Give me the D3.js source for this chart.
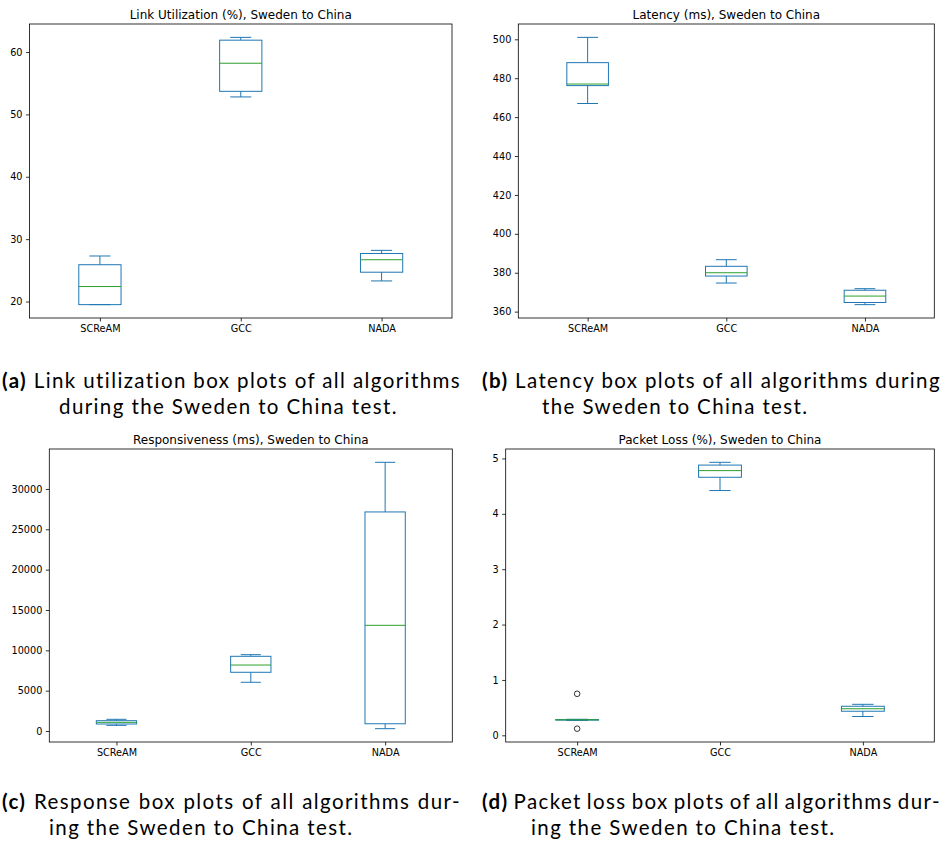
<!DOCTYPE html>
<html>
<head>
<meta charset="utf-8">
<script src="https://cdn.jsdelivr.net/npm/d3@7"></script>
<style>
  html, body { margin: 0; padding: 0; background: #fff; }
  svg { display: block; }
</style>
</head>
<body>
<svg id="fig" width="945" height="842"></svg>
<script>
// Algorithms compared in every panel
const categories = ["SCReAM", "GCC", "NADA"];

// Box statistics per algorithm: [lower whisker, Q1, median, Q3, upper whisker]
const utilizationStats = [
  [19.5, 19.5, 22.4, 25.9, 27.3],
  [52.8, 53.7, 58.2, 61.9, 62.35],
  [23.3, 24.7, 26.7, 27.7, 28.2]
];
const latencyStats = [
  [467, 476.2, 477, 488, 501],
  [374.7, 378.3, 380, 383.3, 386.7],
  [363.6, 364.7, 368, 371, 371.8]
];
const responsivenessStats = [
  [700, 870, 1075, 1280, 1450],
  [6040, 7280, 8180, 9260, 9460],
  [290, 900, 13100, 27150, 33300]
];
const packetLossStats = [
  [0.27, 0.275, 0.28, 0.285, 0.29],
  [4.42, 4.66, 4.78, 4.88, 4.93],
  [0.34, 0.435, 0.48, 0.525, 0.56]
];

// Outlier points per algorithm
const utilizationFliers = [[], [], []];
const latencyFliers = [[], [], []];
const responsivenessFliers = [[], [], []];
const packetLossFliers = [[0.75, 0.12], [], []];

// Y tick values
const utilizationTicks = [20, 30, 40, 50, 60];
const latencyTicks = [360, 380, 400, 420, 440, 460, 480, 500];
const responsivenessTicks = [0, 5000, 10000, 15000, 20000, 25000, 30000];
const packetLossTicks = [0, 1, 2, 3, 4, 5];

// Panel titles and captions
const titles = [
  "Link Utilization (%), Sweden to China",
  "Latency (ms), Sweden to China",
  "Responsiveness (ms), Sweden to China",
  "Packet Loss (%), Sweden to China"
];
const captionLabels = ["(a)", "(b)", "(c)", "(d)"];
const captionFirstLines = [
  "Link utilization box plots of all algorithms",
  "Latency box plots of all algorithms during",
  "Response box plots of all algorithms dur-",
  "Packet loss box plots of all algorithms dur-"
];
const captionSecondLines = [
  "during the Sweden to China test.",
  "the Sweden to China test.",
  "ing the Sweden to China test.",
  "ing the Sweden to China test."
];

const BLUE = "#1f77b4", GREEN = "#2ca02c";
const tickFont = "'DejaVu Sans', sans-serif";
const captionFont = "Lato, 'Open Sans', sans-serif";
const tickSize = 9.7, titleSize = 12;
const capSize = 20.5, captionLeading = 26;

const svg = d3.select("#fig");

// Panel frames: axes rectangles and caption anchors
const panels = [
  {stats: utilizationStats, fliers: utilizationFliers, ticks: utilizationTicks,
   box: {x0: 29.5, x1: 452, y0: 24, y1: 318}, cap: {x: 2, x2: 59, y: 388}},
  {stats: latencyStats, fliers: latencyFliers, ticks: latencyTicks,
   box: {x0: 518.3, x1: 934.3, y0: 24, y1: 318}, cap: {x: 482, x2: 542, y: 388}},
  {stats: responsivenessStats, fliers: responsivenessFliers, ticks: responsivenessTicks,
   box: {x0: 49.3, x1: 452.3, y0: 449, y1: 742}, cap: {x: 2, x2: 49, y: 809}},
  {stats: packetLossStats, fliers: packetLossFliers, ticks: packetLossTicks,
   box: {x0: 505.7, x1: 934.3, y0: 449, y1: 742}, cap: {x: 482, x2: 531, y: 809}}
];

panels.forEach((p, i) => {
  const {x0, x1, y0, y1} = p.box;
  const g = svg.append("g");

  // Category positions 1..3 inside a 0.5..3.5 range
  const x = d3.scaleLinear().domain([0.5, categories.length + 0.5]).range([x0, x1]);

  // Value range with a 5% margin on both ends
  const all = p.stats.flat().concat(p.fliers.flat());
  const lo = d3.min(all), hi = d3.max(all), pad = (hi - lo) * 0.05;
  const y = d3.scaleLinear().domain([lo - pad, hi + pad]).range([y1, y0]);

  // Axes
  const yAxis = d3.axisLeft(y).tickValues(p.ticks).tickSize(3.5).tickPadding(3.5).tickFormat(d3.format("d"));
  const xAxis = d3.axisBottom(x).tickValues(categories.map((_, k) => k + 1))
    .tickSize(3.5).tickPadding(3.5).tickFormat((d) => categories[d - 1]);

  const ya = g.append("g").attr("transform", `translate(${x0},0)`).call(yAxis);
  const xa = g.append("g").attr("transform", `translate(0,${y1})`).call(xAxis);
  [ya, xa].forEach((a) => {
    a.attr("font-family", null).attr("font-size", null);
    a.select(".domain").remove();
    a.selectAll("line").attr("stroke", "#000").attr("stroke-width", 0.8);
    a.selectAll("text").attr("fill", "#000").style("font-family", tickFont).style("font-size", tickSize + "px");
  });

  // Box elements
  const bw = x(1.3) - x(1);   // box width 0.3
  p.stats.forEach((s, k) => {
    const cx = x(k + 1);
    const [wl, q1, med, q3, wh] = s;
    const b = g.append("g").attr("fill", "none").attr("stroke-width", 1);
    b.append("line").attr("x1", cx).attr("x2", cx).attr("y1", y(q1)).attr("y2", y(wl)).attr("stroke", BLUE);
    b.append("line").attr("x1", cx).attr("x2", cx).attr("y1", y(q3)).attr("y2", y(wh)).attr("stroke", BLUE);
    b.append("line").attr("x1", cx - bw / 4).attr("x2", cx + bw / 4).attr("y1", y(wl)).attr("y2", y(wl)).attr("stroke", BLUE);
    b.append("line").attr("x1", cx - bw / 4).attr("x2", cx + bw / 4).attr("y1", y(wh)).attr("y2", y(wh)).attr("stroke", BLUE);
    b.append("rect").attr("x", cx - bw / 2).attr("width", bw)
      .attr("y", y(q3)).attr("height", Math.max(0, y(q1) - y(q3))).attr("stroke", BLUE);
    b.append("line").attr("x1", cx - bw / 2).attr("x2", cx + bw / 2).attr("y1", y(med)).attr("y2", y(med)).attr("stroke", GREEN);
    p.fliers[k].forEach((v) => {
      b.append("circle").attr("cx", cx).attr("cy", y(v)).attr("r", 2.8)
        .attr("stroke", "#000").attr("stroke-width", 0.8);
    });
  });

  // Frame
  g.append("rect").attr("x", x0).attr("y", y0).attr("width", x1 - x0).attr("height", y1 - y0)
    .attr("fill", "none").attr("stroke", "#000").attr("stroke-width", 0.8);

  // Title
  g.append("text").attr("x", (x0 + x1) / 2).attr("y", y0 - 5.5).attr("text-anchor", "middle")
    .style("font-family", tickFont).style("font-size", titleSize + "px").attr("fill", "#000").text(titles[i]);
});

// Caption tracking: the second line of (a) spans 339px
const probe = svg.append("text").style("font-family", captionFont).style("font-size", capSize + "px")
  .text(captionSecondLines[0]);
const tracking = (339 - probe.node().getComputedTextLength()) / captionSecondLines[0].length;
probe.remove();

// Captions: first line justified to the subfigure width, second line set naturally
const lineWidth = 459;
panels.forEach((p, i) => {
  const c = p.cap;
  const t = svg.append("text").attr("x", c.x).attr("y", c.y)
    .style("font-family", captionFont).style("font-size", capSize + "px")
    .style("letter-spacing", tracking + "px").attr("fill", "#000");
  t.append("tspan").style("font-weight", "bold").text(captionLabels[i]);
  t.append("tspan").text(" " + captionFirstLines[i]);
  const natural = t.node().getComputedTextLength();
  const spaces = (captionFirstLines[i].match(/ /g) || []).length + 1;
  t.style("word-spacing", Math.max(-2, (lineWidth - natural) / spaces) + "px");

  svg.append("text").attr("x", c.x2).attr("y", c.y + captionLeading)
    .style("font-family", captionFont).style("font-size", capSize + "px")
    .style("letter-spacing", tracking + "px").attr("fill", "#000")
    .text(captionSecondLines[i]);
});
</script>
</body>
</html>
